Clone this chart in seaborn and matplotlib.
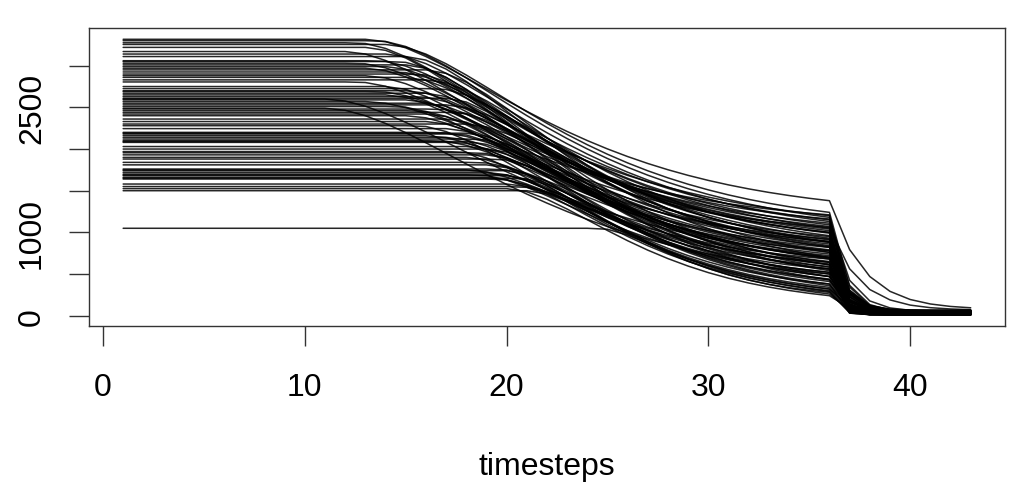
import numpy as np
import pandas as pd
import matplotlib
matplotlib.use("Agg")
import matplotlib.pyplot as plt
import seaborn as sns

# ---- data ----
timesteps = list(range(1, 44))

# starting (flat) level of each series
start_level = [
    3317, 3300, 3275, 3255, 3220, 3170, 3140, 3110, 3060, 3050,
    3030, 3010, 2990, 2970, 2950, 2925, 2900, 2880, 2860, 2830,
    2805, 2750, 2725, 2700, 2690, 2670, 2650, 2630, 2610, 2600,
    2590, 2570, 2550, 2530, 2510, 2490, 2480, 2460, 2440, 2420,
    2400, 2360, 2330, 2300, 2280, 2245, 2200, 2190, 2180, 2160,
    2140, 2120, 2100, 2090, 2080, 2030, 2000, 1970, 1955, 1930,
    1900, 1880, 1840, 1810, 1760, 1750, 1740, 1720, 1700, 1690,
    1680, 1660, 1650, 1640, 1580, 1550, 1525, 1500, 1049,
]
# timestep where the decline begins
knee_step = [
    13, 13.5, 12.5, 14, 13, 12, 14, 15, 13.5, 14.5,
    12.5, 15, 14, 13, 16, 14.5, 15.5, 13, 15, 16,
    12.5, 14, 16.5, 15, 13.5, 16, 14, 15.5, 17, 11,
    15, 13, 16, 17, 14.5, 11, 16.5, 15.5, 17.5, 16,
    15, 17, 16, 18, 15.5, 17, 16.5, 18, 17.5, 16,
    17, 18.5, 16.5, 18, 17.5, 18, 19, 17.5, 18.5, 19,
    18, 19.5, 18.5, 19, 19.5, 18, 20, 19, 19.5, 18.5,
    20, 19, 20.5, 19.5, 20, 20.5, 20, 21, 24.5,
]
# value at timestep 36 (just before the drop)
value_t36 = [
    1380, 1180, 1050, 1240, 820, 990, 1130, 700, 1090, 880,
    1200, 610, 930, 1020, 760, 1150, 540, 1070, 840, 960,
    1110, 680, 890, 1000, 1160, 580, 790, 1040, 470, 720,
    860, 1210, 640, 910, 760, 520, 1000, 690, 430, 830,
    950, 560, 780, 880, 470, 700, 1060, 610, 360, 920,
    740, 500, 820, 650, 410, 890, 560, 320, 700, 470,
    620, 380, 780, 520, 290, 680, 430, 590, 340, 500,
    260, 640, 440, 300, 560, 380, 240, 320, 280,
]
# fraction kept per step after timestep 36
drop_ratio = [
    0.55, 0.2, 0.06, 0.25, 0.12, 0.08, 0.3, 0.1, 0.22, 0.05,
    0.16, 0.08, 0.25, 0.05, 0.2, 0.34, 0.1, 0.14, 0.26, 0.06,
    0.24, 0.18, 0.05, 0.25, 0.12, 0.3, 0.04, 0.16, 0.22, 0.08,
    0.28, 0.06, 0.14, 0.2, 0.05, 0.24, 0.1, 0.34, 0.14, 0.04,
    0.18, 0.08, 0.26, 0.12, 0.22, 0.05, 0.5, 0.14, 0.3, 0.06,
    0.2, 0.04, 0.24, 0.1, 0.16, 0.32, 0.06, 0.22, 0.12, 0.28,
    0.05, 0.18, 0.14, 0.24, 0.08, 0.34, 0.2, 0.04, 0.26, 0.1,
    0.16, 0.06, 0.24, 0.12, 0.2, 0.05, 0.28, 0.14, 0.08,
]
# final floor level
final_level = [
    75, 55, 15, 45, 20, 60, 35, 12, 50, 25,
    40, 12, 65, 20, 35, 50, 15, 30, 60, 12,
    50, 25, 40, 15, 55, 30, 12, 45, 20, 35,
    60, 12, 30, 50, 25, 15, 45, 35, 65, 12,
    20, 40, 55, 12, 30, 50, 65, 25, 15, 60,
    35, 12, 45, 20, 55, 30, 12, 50, 25, 40,
    15, 60, 30, 45, 12, 35, 20, 55, 12, 40,
    25, 50, 15, 35, 60, 12, 30, 45, 20,
]
shape_c = 4.0

# ---- build long-form table ----
rows = []
norm = 1 - (1 + shape_c) * np.exp(-shape_c)
for i, (L, k, E, r, F) in enumerate(zip(start_level, knee_step, value_t36,
                                        drop_ratio, final_level)):
    for t in timesteps:
        if t <= k:
            v = L
        elif t <= 36:
            u = (t - k) / (36 - k)
            g = (1 - (1 + shape_c * u) * np.exp(-shape_c * u)) / norm
            v = L - (L - E) * g
        else:
            v = F + (E - F) * r ** (t - 36)
        rows.append((i, t, v))
df = pd.DataFrame(rows, columns=["series", "timesteps", "value"])

# ---- plot ----
sns.set_style("white")
plt.rcParams["font.family"] = ["Liberation Sans", "DejaVu Sans"]

fig = plt.figure(figsize=(10.12, 4.85), dpi=100)
ax = fig.add_axes([0.0882, 0.3264, 0.9045, 0.6132])

sns.lineplot(data=df, x="timesteps", y="value", units="series",
             estimator=None, color="black", linewidth=1.1, alpha=0.85,
             ax=ax, legend=False)

ax.set_xlim(-0.68, 44.68)
ax.set_ylim(-120, 3449)
ax.set_xticks([0, 10, 20, 30, 40])
ax.set_xticklabels(["0", "10", "20", "30", "40"])
ax.set_yticks([0, 500, 1000, 1500, 2000, 2500, 3000])
ax.set_yticklabels(["0", "", "1000", "", "", "2500", ""],
                   rotation=90, va="center")
ax.tick_params(axis="both", which="major", direction="out", length=14.4,
               width=1.0, color="#333333", labelcolor="black", labelsize=23,
               bottom=True, left=True, top=False, right=False)
ax.tick_params(axis="x", pad=19)
ax.tick_params(axis="y", pad=16)
ax.set_xlabel("timesteps", fontsize=23, labelpad=35, color="black")
ax.set_ylabel("")
for s in ax.spines.values():
    s.set_visible(True)
    s.set_color("#333333")
    s.set_linewidth(1.0)
ax.grid(False)

fig.savefig("out.png", dpi=100, facecolor="white")
